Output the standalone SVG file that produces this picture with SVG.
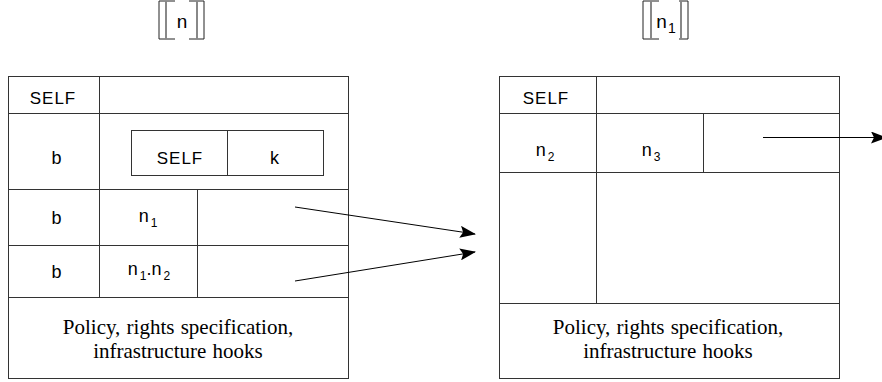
<svg xmlns="http://www.w3.org/2000/svg" width="882" height="382" viewBox="0 0 882 382">
<style>
.ln{stroke:#333;stroke-width:1;fill:none}
.ar{stroke:#000;stroke-width:1;fill:none}
.br{stroke:#222;stroke-width:1;fill:none}
.bri{stroke:#888;stroke-width:2;fill:none}
.s{font-family:"Liberation Sans",Arial,sans-serif;font-size:17px;fill:#000;text-anchor:middle;letter-spacing:1px}
.n{letter-spacing:0}
.sub{font-size:12px;letter-spacing:0}
.t{font-size:21px;fill:#000;text-anchor:middle;word-spacing:1px}
</style>
<defs>
<marker id="ah" markerWidth="16" markerHeight="12" refX="15" refY="6" orient="auto" markerUnits="userSpaceOnUse">
<path d="M0,0 L16,6 L0,12 L3,6 Z" fill="#000"/>
</marker>
</defs>
<rect width="882" height="382" fill="#fff"/>

<g id="title-left">
<path class="br" d="M175,1 H159 V39 H175 M189,1 H204 V39 H189"/>
<path class="bri" d="M166,1 V39 M197,1 V39"/>
<text class="s n" x="182" y="28" style="font-size:19px">n</text>
</g>

<g id="title-right">
<path class="br" d="M659,1 H643 V39 H659 M679,1 H688 V39 H679"/>
<path class="bri" d="M651,1 V39 M681,1 V39"/>
<text class="s n" x="666" y="28" style="font-size:19px">n<tspan class="sub" dx="1" dy="5" style="font-size:14px">1</tspan></text>
</g>

<g id="node-left">
<rect class="ln" x="8.5" y="76.5" width="340" height="302"/>
<path class="ln" d="M8.5,113.5 H348.5 M8.5,189.5 H348.5 M8.5,245.5 H348.5 M8.5,297.5 H348.5 M99.5,76.5 V297.5 M197.5,189.5 V297.5"/>
<rect class="ln" x="131.5" y="130.5" width="192" height="45"/>
<path class="ln" d="M227.5,130.5 V175.5"/>
<text class="s" x="53" y="104">SELF</text>
<text class="s" x="57" y="164" style="font-size:18px">b</text>
<text class="s" x="180" y="164">SELF</text>
<text class="s" x="275" y="164" style="font-size:18px">k</text>
<text class="s" x="57" y="224" style="font-size:18px">b</text>
<text class="s n" x="148" y="222" style="font-size:18px">n<tspan class="sub" dx="2" dy="5">1</tspan></text>
<text class="s" x="57" y="278" style="font-size:18px">b</text>
<text class="s n" x="149" y="275" style="font-size:18px">n<tspan class="sub" dx="2" dy="5">1</tspan><tspan dy="-5">.n</tspan><tspan class="sub" dx="2" dy="5">2</tspan></text>
<text class="t" font-family="Liberation Serif, DejaVu Serif, Times New Roman, serif" x="178" y="334">Policy, rights specification,</text>
<text class="t" font-family="Liberation Serif, DejaVu Serif, Times New Roman, serif" x="178" y="358">infrastructure hooks</text>
</g>

<g id="node-right">
<rect class="ln" x="499.5" y="76.5" width="340" height="302"/>
<path class="ln" d="M499.5,113.5 H839.5 M499.5,172.5 H839.5 M499.5,303.5 H839.5 M596.5,76.5 V303.5 M703.5,113.5 V172.5"/>
<text class="s" x="546" y="104">SELF</text>
<text class="s n" x="545" y="156" style="font-size:18px">n<tspan class="sub" dx="2" dy="5">2</tspan></text>
<text class="s n" x="651" y="156" style="font-size:18px">n<tspan class="sub" dx="2" dy="5">3</tspan></text>
<text class="t" font-family="Liberation Serif, DejaVu Serif, Times New Roman, serif" x="668" y="334">Policy, rights specification,</text>
<text class="t" font-family="Liberation Serif, DejaVu Serif, Times New Roman, serif" x="668" y="358">infrastructure hooks</text>
</g>

<g id="connectors">
<line class="ar" x1="295" y1="207" x2="475" y2="234" marker-end="url(#ah)"/>
<line class="ar" x1="295" y1="281" x2="475" y2="252" marker-end="url(#ah)"/>
<line class="ar" x1="763" y1="137.5" x2="886" y2="137.5" marker-end="url(#ah)"/>
</g>
</svg>
